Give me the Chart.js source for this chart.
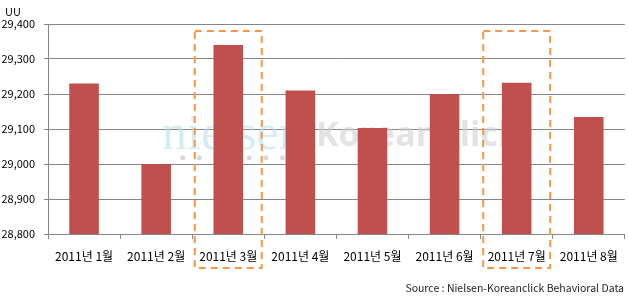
<!DOCTYPE html>
<html>
<head>
<meta charset="utf-8">
<script src="https://cdn.jsdelivr.net/npm/chart.js@4/dist/chart.umd.min.js"></script>
<style>
  html, body { margin: 0; padding: 0; background: #fff; }
  #wrap { width: 628px; height: 300px; position: relative; }
</style>
</head>
<body>
<div id="wrap"><canvas id="myChart"></canvas></div>
<script>
const months = ["2011년 1월", "2011년 2월", "2011년 3월", "2011년 4월",
  "2011년 5월", "2011년 6월", "2011년 7월", "2011년 8월"];
const uuValues = [29230, 29000, 29340, 29210, 29103, 29200, 29232, 29134];
const highlighted = [2, 6];
const yTicks = [28800, 28900, 29000, 29100, 29200, 29300, 29400];

const FONT = "'Noto Sans CJK KR', 'DejaVu Sans', sans-serif";

// watermark, the "UU" unit, source line and the dashed boxes
const decor = {
  id: "decor",
  beforeDatasetsDraw(chart) {
    const c = chart.ctx;
    c.save();
    c.globalAlpha = 0.6;
    c.font = "50px 'Liberation Serif', serif";
    c.fillStyle = "#b9dfee";
    c.textBaseline = "alphabetic";
    c.fillText("nielsen", 162, 149);
    c.font = "bold 34px 'Open Sans', sans-serif";
    c.fillStyle = "#cfd0d2";
    c.fillText("KoreanClick", 316, 146);
    c.globalAlpha = 0.8;
    c.fillStyle = "#cfcfcf";
    for (let i = 0; i < 8; i++) {
      c.beginPath();
      c.arc(182.7 + i * 16.65, 157.7, 2.5, 0, Math.PI * 2);
      c.fill();
    }
    c.restore();
  },
  afterDraw(chart) {
    const c = chart.ctx;
    const x = chart.scales.x;
    c.save();
    c.fillStyle = "#000";
    c.font = "11px " + FONT;
    c.textBaseline = "middle";
    c.fillText("UU", 5, 12);
    c.textAlign = "right";
    c.font = "10.5px " + FONT;
    c.fillStyle = "#1f1f1f";
    c.fillText("Source : Nielsen-Koreanclick Behavioral Data", 624, 288);

    c.strokeStyle = "#f79646";
    c.lineWidth = 2;
    c.setLineDash([7, 5]);
    highlighted.forEach((i) => {
      const cx = x.getPixelForValue(i);
      c.strokeRect(cx - 33.5, 31, 67, 237);
    });
    c.restore();
  },
};

new Chart(document.getElementById("myChart"), {
  type: "bar",
  data: {
    labels: months,
    datasets: [
      {
        label: "UU",
        data: uuValues,
        backgroundColor: "#c0504d",
        borderWidth: 0,
        barPercentage: 0.41,
        categoryPercentage: 1,
      },
    ],
  },
  options: {
    responsive: true,
    maintainAspectRatio: false,
    animation: false,
    layout: { padding: { top: 24, right: 3, bottom: 0, left: 0 } },
    plugins: {
      legend: { display: false },
      tooltip: { enabled: false },
    },
    scales: {
      x: {
        grid: {
          offset: true,
          drawOnChartArea: false,
          drawTicks: true,
          tickLength: 5,
          color: "#868686",
        },
        border: { color: "#868686" },
        ticks: {
          padding: 10,
          color: "#000",
          font: { family: FONT, size: 12 },
          maxRotation: 0,
        },
        afterFit(scale) {
          scale.height = 66;
        },
      },
      y: {
        min: 28800,
        max: 29400,
        afterBuildTicks(scale) {
          scale.ticks = yTicks.map((v) => ({ value: v }));
        },
        grid: {
          color: "#868686",
          tickLength: 4,
        },
        border: { color: "#868686" },
        ticks: {
          padding: 9,
          color: "#000",
          font: { family: FONT, size: 11 },
          callback: function (value) {
            return value.toLocaleString("en-US");
          },
        },
        afterFit(scale) {
          scale.width = 48;
        },
      },
    },
  },
  plugins: [decor],
});
</script>
</body>
</html>
